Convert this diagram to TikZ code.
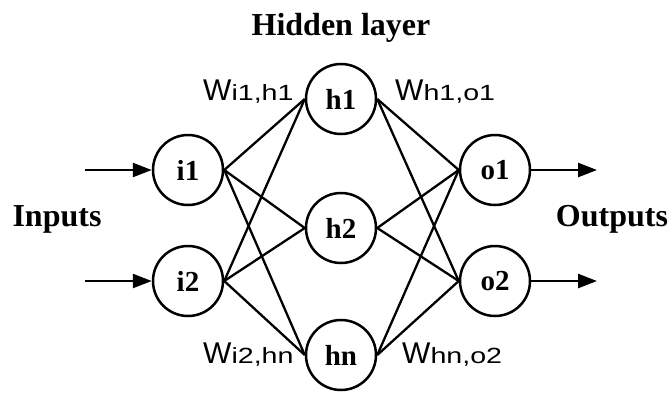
\documentclass[tikz,border=0pt]{standalone}
\usepackage{fontspec}
\usepackage{graphicx}
\setmainfont{Liberation Serif}
\newfontfamily\wfont{Liberation Sans}
\usetikzlibrary{arrows.meta}
\newcommand{\wlab}[1]{{\wfont\fontsize{30}{30}\selectfont W\fontsize{22}{22}\selectfont\scalebox{1.3}[1]{#1}}}
\tikzset{
  neuron/.style={circle, draw, line width=2.5pt, minimum size=70pt, inner sep=0pt,
    font=\bfseries\fontsize{29}{29}\selectfont},
  conn/.style={line width=2.3pt},
  io/.style={line width=2.5pt, -{Triangle[length=19pt,width=14pt]}},
  title/.style={font=\bfseries\fontsize{32}{32}\selectfont, inner sep=0pt},
  wl/.style={anchor=base west, inner sep=0pt}
}
\begin{document}
\begin{tikzpicture}[x=1pt,y=-1pt]
\useasboundingbox (0,0) rectangle (670,392);
\node[neuron] (i1) at (188,170) {i1};
\node[neuron] (i2) at (188,281) {i2};
\node[neuron] (h1) at (341,99) {h1};
\node[neuron] (h2) at (341,228) {h2};
\node[neuron] (hn) at (341,355) {hn};
\node[neuron] (o1) at (495,170) {o1};
\node[neuron] (o2) at (495,281) {o2};
\foreach \a in {i1,i2} \foreach \b in {h1,h2,hn} \draw[conn] (\a.east) -- (\b.west);
\foreach \a in {h1,h2,hn} \foreach \b in {o1,o2} \draw[conn] (\a.east) -- (\b.west);
\coordinate (in1) at (85,170);
\coordinate (in2) at (85,281);
\coordinate (out1) at (597,170);
\coordinate (out2) at (597,281);
\draw[io] (in1) -- (i1.west);
\draw[io] (in2) -- (i2.west);
\draw[io] (o1.east) -- (out1);
\draw[io] (o2.east) -- (out2);
\node[title, anchor=base] (hl) at (341,35) {Hidden layer};
\node[title, anchor=base] (inp) at (57,226) {Inputs};
\node[title, anchor=base] (outp) at (612,226) {Outputs};
\node[wl] (w1) at (203,100) {\wlab{i1,h1}};
\node[wl] (w2) at (395,100) {\wlab{h1,o1}};
\node[wl] (w3) at (203,363) {\wlab{i2,hn}};
\node[wl] (w4) at (402,363) {\wlab{hn,o2}};
\end{tikzpicture}
\end{document}
